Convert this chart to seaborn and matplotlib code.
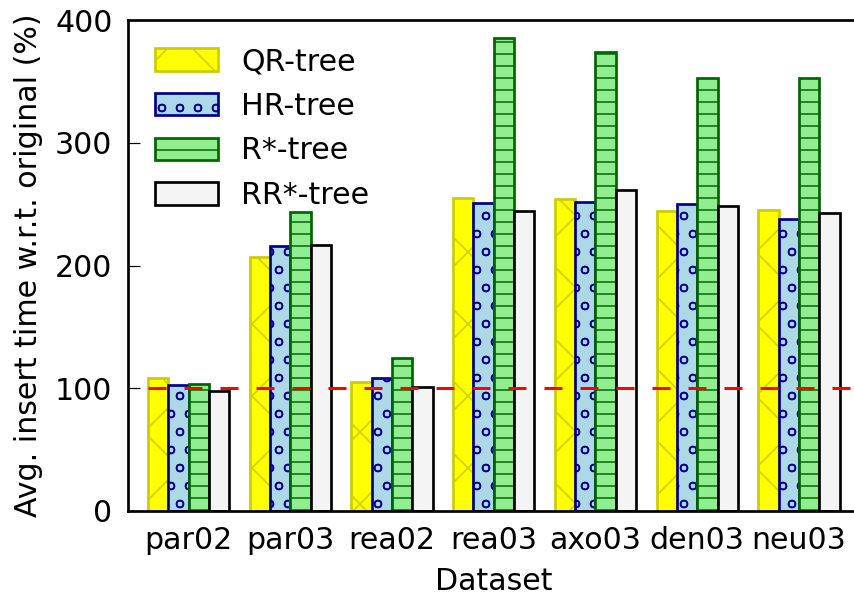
import matplotlib
matplotlib.use("Agg")
import matplotlib.pyplot as plt
import seaborn as sns
import pandas as pd

# Datasets on the x axis and the four index variants
datasets = ["par02", "par03", "rea02", "rea03", "axo03", "den03", "neu03"]
trees = ["QR-tree", "HR-tree", "R*-tree", "RR*-tree"]

# Average insert time relative to the original structure (%)
qr_tree = [108.6, 206.7, 104.8, 254.7, 254.2, 244.4, 245.2]
hr_tree = [102.5, 216.1, 108.6, 251.2, 252.0, 250.1, 237.9]
rstar_tree = [103.2, 243.8, 124.9, 385.6, 374.2, 353.0, 353.0]
rrstar_tree = [97.8, 216.7, 101.3, 244.4, 261.5, 248.7, 242.5]

baseline = 100
y_ticks = [0, 100, 200, 300, 400]

df = pd.DataFrame({
    "Dataset": datasets * 4,
    "tree": sum([[t] * len(datasets) for t in trees], []),
    "value": qr_tree + hr_tree + rstar_tree + rrstar_tree,
})

fills = {"QR-tree": "#ffff00", "HR-tree": "#add8e6",
         "R*-tree": "#90ee90", "RR*-tree": "#f4f4f4"}
edges = ["#cccc00", "#00008b", "#006400", "#000000"]
hatches = ["x", "oo", "---", ""]

sns.set_style("ticks")
plt.rcParams["font.family"] = ["DejaVu Sans"]
plt.rcParams["font.size"] = 10
plt.rcParams["hatch.linewidth"] = 0.5
for key in ["text.color", "axes.labelcolor", "xtick.color", "ytick.color",
            "axes.edgecolor"]:
    plt.rcParams[key] = "black"

DPI = 216
fig = plt.figure(figsize=(854 / DPI, 598 / DPI), dpi=DPI)
ax = fig.add_axes([127.5 / 854, 1 - 511 / 598, 732.5 / 854, 491 / 598])

sns.barplot(data=df, x="Dataset", y="value", hue="tree", hue_order=trees,
            order=datasets, palette=fills, saturation=1, errorbar=None,
            width=0.8, linewidth=0.9, legend=False, ax=ax, zorder=2)

for cont, ec, h in zip(ax.containers, edges, hatches):
    for bar in cont:
        bar.set_edgecolor(ec)
        bar.set_hatch(h)
        bar.set_linewidth(0.9)

ax.hlines(baseline, -0.4, 6.6, colors="red", linewidth=1.0,
          linestyles=(0, (6, 6)), zorder=5)

ax.set_xlim(-0.6, 6.6)
ax.set_ylim(0, 400)
ax.set_yticks(y_ticks)
ax.set_xlabel("Dataset", fontsize=10)
ax.set_ylabel("Avg. insert time w.r.t. original (%)", fontsize=10)

for side in ["left", "bottom", "top", "right"]:
    ax.spines[side].set_visible(True)
    ax.spines[side].set_linewidth(0.9)
    ax.spines[side].set_color("black")

ax.tick_params(axis="both", direction="in", length=4, width=0.4,
               pad=5, labelsize=10, top=False, right=False, colors="black")

ax.legend(handles=list(ax.containers), labels=trees, loc="upper left",
          frameon=False, fontsize=10, handlelength=2.1, handleheight=0.77,
          handletextpad=0.8, labelspacing=0.52, borderaxespad=0.5)

fig.savefig("out.png", dpi=DPI)
